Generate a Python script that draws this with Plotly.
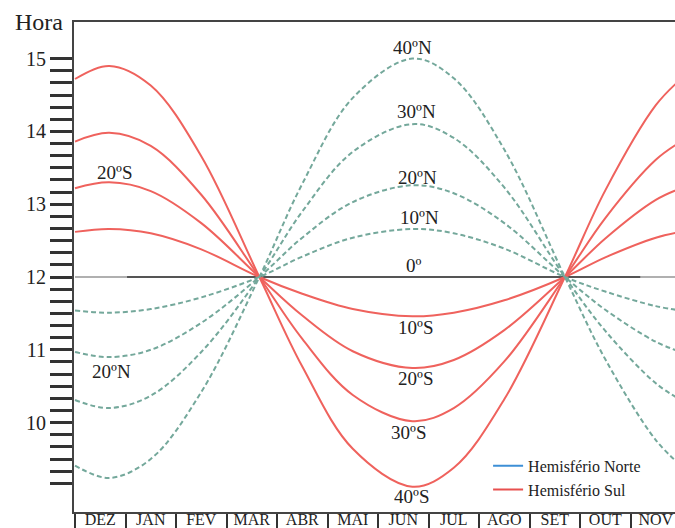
import plotly.graph_objects as go

# x positions in month units (0 = start of DEZ, 1 = start of JAN, ...)
months = ["DEZ", "JAN", "FEV", "MAR", "ABR", "MAI", "JUN", "JUL", "AGO", "SET", "OUT", "NOV"]
t = [0, 0.68, 1.5, 2.5, 3.65, 4.5, 5.5, 6.68, 7.5, 8.5, 9.7, 10.5, 11.5, 12]

# Day length (hours)
n10 = [11.54, 11.51, 11.56, 11.72, 12.0, 12.28, 12.54, 12.66, 12.60, 12.39, 12.0, 11.80, 11.60, 11.54]
n20 = [10.97, 10.90, 11.00, 11.37, 12.0, 12.54, 13.03, 13.26, 13.15, 12.74, 12.0, 11.55, 11.11, 10.97]
n30 = [10.31, 10.20, 10.37, 10.97, 12.0, 12.90, 13.72, 14.10, 13.91, 13.23, 12.0, 11.26, 10.54, 10.31]
n40 = [9.41, 9.24, 9.50, 10.42, 12.0, 13.28, 14.46, 15.00, 14.73, 13.75, 12.0, 10.87, 9.76, 9.41]
s10 = [12.62, 12.66, 12.60, 12.38, 12.0, 11.77, 11.56, 11.46, 11.51, 11.68, 12.0, 12.27, 12.54, 12.62]
s20 = [13.22, 13.30, 13.18, 12.74, 12.0, 11.47, 10.98, 10.75, 10.86, 11.27, 12.0, 12.53, 13.06, 13.22]
s30 = [13.86, 13.98, 13.80, 13.13, 12.0, 11.15, 10.38, 10.02, 10.20, 10.84, 12.0, 12.81, 13.61, 13.86]
s40 = [14.72, 14.90, 14.63, 13.66, 12.0, 10.77, 9.64, 9.12, 9.38, 10.32, 12.0, 13.19, 14.36, 14.72]
eq_x = [0, 1.03, 11.2, 12]
eq_y = [12.0, 12.0, 12.0, 12.0]

y_ticks = [10, 11, 12, 13, 14, 15]

# curve labels
lab_text = ["40ºN", "30ºN", "20ºN", "10ºN", "0º", "10ºS", "20ºS", "30ºS", "40ºS", "20ºS", "20ºN"]
lab_x = [6.69, 6.77, 6.79, 6.83, 6.71, 6.75, 6.75, 6.61, 6.67, 0.79, 0.73]
lab_y = [15.15, 14.27, 13.37, 12.82, 12.16, 11.31, 10.61, 9.86, 8.98, 13.44, 10.70]

FONT = "Liberation Serif"
GREEN = "#74a89b"
RED = "#ef625d"

fig = go.Figure()

# zero-latitude line (light grey ends, dark middle)
fig.add_trace(go.Scatter(x=eq_x[0:2], y=eq_y[0:2], mode="lines",
                         line=dict(color="#b0b0b0", width=2), showlegend=False, hoverinfo="skip"))
fig.add_trace(go.Scatter(x=eq_x[1:3], y=eq_y[1:3], mode="lines",
                         line=dict(color="#555555", width=2), showlegend=False, hoverinfo="skip"))
fig.add_trace(go.Scatter(x=eq_x[2:4], y=eq_y[2:4], mode="lines",
                         line=dict(color="#b0b0b0", width=2), showlegend=False, hoverinfo="skip"))

for ys in [s10, s20, s30, s40]:
    fig.add_trace(go.Scatter(x=t, y=ys, mode="lines", line_shape="spline",
                             line=dict(color=RED, width=2), showlegend=False))
for ys in [n10, n20, n30, n40]:
    fig.add_trace(go.Scatter(x=t, y=ys, mode="lines", line_shape="spline",
                             line=dict(color=GREEN, width=2, dash="5px,3px"), showlegend=False))

# legend entries
fig.add_trace(go.Scatter(x=[None], y=[None], mode="lines", name="Hemisfério Norte",
                         line=dict(color="#3d8fd6", width=2)))
fig.add_trace(go.Scatter(x=[None], y=[None], mode="lines", name="Hemisfério Sul",
                         line=dict(color="#e8504f", width=2)))

for txt, lx, ly in zip(lab_text, lab_x, lab_y):
    fig.add_annotation(x=lx, y=ly, text=txt, showarrow=False,
                       font=dict(family=FONT, size=19, color="#222"))

fig.add_annotation(xref="paper", yref="paper", x=-0.058, y=1.0, text="Hora",
                   showarrow=False, xanchor="center", yanchor="middle",
                   font=dict(family=FONT, size=24, color="#222"))

minor_y = [9 + k / 6 for k in range(0, 37) if k % 6 != 0]

fig.update_layout(
    width=675, height=528,
    margin=dict(l=74, r=0, t=22, b=16, autoexpand=False),
    paper_bgcolor="white", plot_bgcolor="white",
    font=dict(family=FONT, color="#222"),
    legend=dict(x=0.689, y=0.129, xanchor="left", yanchor="top",
                bgcolor="rgba(0,0,0,0)", font=dict(family=FONT, size=16, color="#222"),
                tracegroupgap=0),
    xaxis=dict(range=[-0.02, 11.88], showgrid=False, zeroline=False, automargin=False,
               showline=True, mirror=True, linewidth=2, linecolor="#444",
               tickmode="array", tickvals=[i + 0.5 for i in range(12)], ticktext=months,
               ticks="", ticklabelstandoff=-8,
               tickfont=dict(family=FONT, size=16, color="#222"),
               minor=dict(tickmode="array", tickvals=list(range(12)), ticks="outside",
                          ticklen=16, tickwidth=2, tickcolor="#333")),
    yaxis=dict(range=[8.772, 15.503], showgrid=False, zeroline=False, automargin=False,
               showline=True, linewidth=2, linecolor="#444",
               tickmode="array", tickvals=y_ticks, ticktext=[str(v) for v in y_ticks],
               ticks="outside", ticklen=22, tickwidth=3, tickcolor="#333",
               tickfont=dict(family=FONT, size=20, color="#222"),
               minor=dict(tickmode="array", tickvals=minor_y, ticks="outside",
                          ticklen=22, tickwidth=3, tickcolor="#333")),
)

fig.write_html("out.html", config={"displayModeBar": False},
               post_script="document.body.style.margin='0';document.body.style.overflow='hidden';")
